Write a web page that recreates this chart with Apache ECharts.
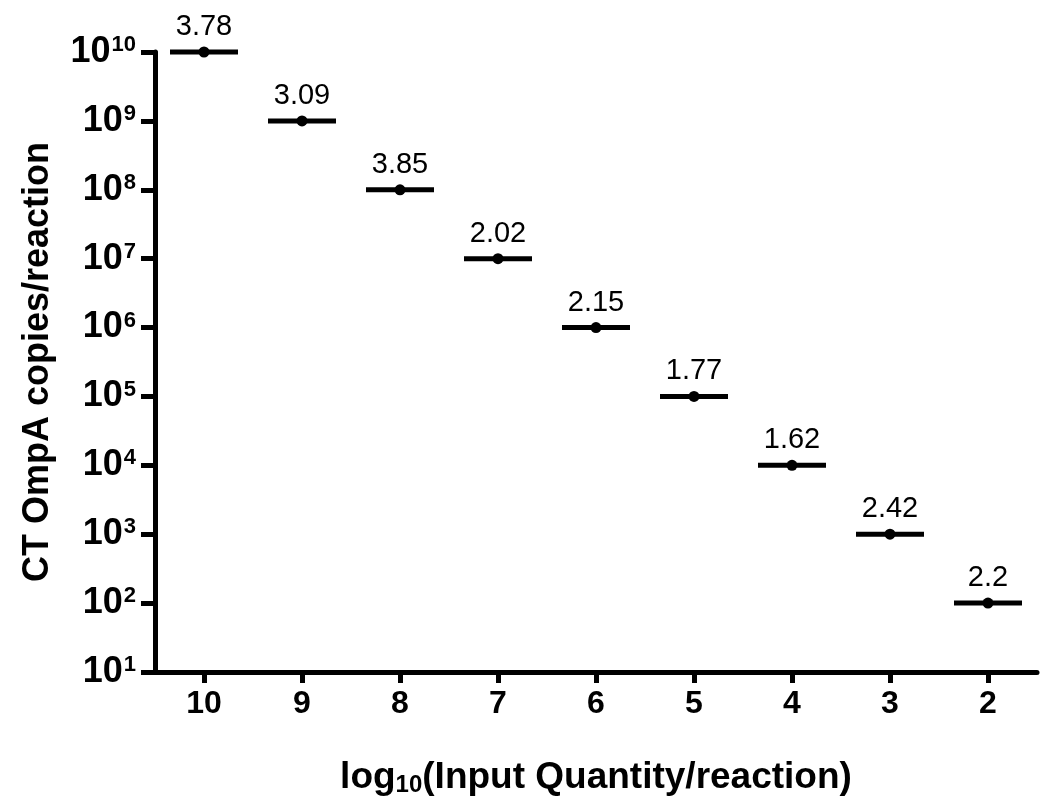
<!DOCTYPE html>
<html>
<head>
<meta charset="utf-8">
<script src="https://cdn.jsdelivr.net/npm/echarts@6/dist/echarts.min.js"></script>
<style>html,body{margin:0;padding:0;background:#fff}#c{width:1050px;height:810px}</style>
</head>
<body>
<div id="c"></div>
<script>
var categories = ['10', '9', '8', '7', '6', '5', '4', '3', '2'];
var copies = [1e10, 1e9, 1e8, 1e7, 1e6, 1e5, 1e4, 1e3, 1e2];
var cvLabels = ['3.78', '3.09', '3.85', '2.02', '2.15', '1.77', '1.62', '2.42', '2.2'];
var yMin = 10, yMax = 1e10;

var font = 'Liberation Sans, Arial, Helvetica, sans-serif';
var chart = echarts.init(document.getElementById('c'));
chart.setOption({
  animation: false,
  backgroundColor: '#fff',
  grid: { left: 155, right: 13, top: 52, bottom: 138, containLabel: false, outerBoundsMode: 'none' },
  xAxis: {
    type: 'category',
    data: categories,
    boundaryGap: true,
    axisLine: { show: true, onZero: false, lineStyle: { color: '#000', width: 5 } },
    axisTick: { show: true, alignWithLabel: true, length: 11, lineStyle: { color: '#000', width: 5 } },
    axisLabel: { color: '#000', fontSize: 32, fontWeight: 'bold', fontFamily: font, margin: 16 },
    splitLine: { show: false },
    name: '{a|log}{s|10}{a|(Input Quantity/reaction)}',
    nameLocation: 'middle',
    nameGap: 87,
    nameTextStyle: {
      rich: {
        a: { fontSize: 37, fontWeight: 'bold', color: '#000', fontFamily: font },
        s: { fontSize: 24, fontWeight: 'bold', color: '#000', fontFamily: font, verticalAlign: 'bottom', padding: [14, 0, 0, 0] }
      }
    }
  },
  yAxis: {
    type: 'log',
    logBase: 10,
    min: yMin,
    max: yMax,
    splitNumber: 9,
    axisLine: { show: true, lineStyle: { color: '#000', width: 5 } },
    axisTick: { show: true, length: 14, lineStyle: { color: '#000', width: 5 } },
    splitLine: { show: false },
    minorTick: { show: false },
    axisLabel: {
      margin: 19,
      formatter: function (v) {
        var e = Math.round(Math.log10(v));
        return '{a|10}{b|' + e + '}';
      },
      rich: {
        a: { fontSize: 36, fontWeight: 'bold', color: '#000', fontFamily: font },
        b: { fontSize: 22, fontWeight: 'bold', color: '#000', fontFamily: font, verticalAlign: 'top', padding: [0, 0, 13, 1] }
      }
    },
    name: 'CT OmpA copies/reaction',
    nameLocation: 'middle',
    nameGap: 99,
    nameTextStyle: { fontSize: 36, fontWeight: 'bold', color: '#000', fontFamily: font }
  },
  series: [
    {
      type: 'scatter',
      data: copies,
      symbol: 'rect',
      symbolSize: [68, 5],
      itemStyle: { color: '#000', opacity: 1 },
      z: 2
    },
    {
      type: 'scatter',
      data: copies,
      symbol: 'circle',
      symbolSize: 11,
      itemStyle: { color: '#000', opacity: 1 },
      z: 3,
      label: {
        show: true,
        position: 'top',
        distance: 5,
        color: '#000',
        opacity: 1,
        fontSize: 29,
        fontFamily: font,
        formatter: function (p) { return cvLabels[p.dataIndex]; }
      }
    }
  ]
});
</script>
</body>
</html>
